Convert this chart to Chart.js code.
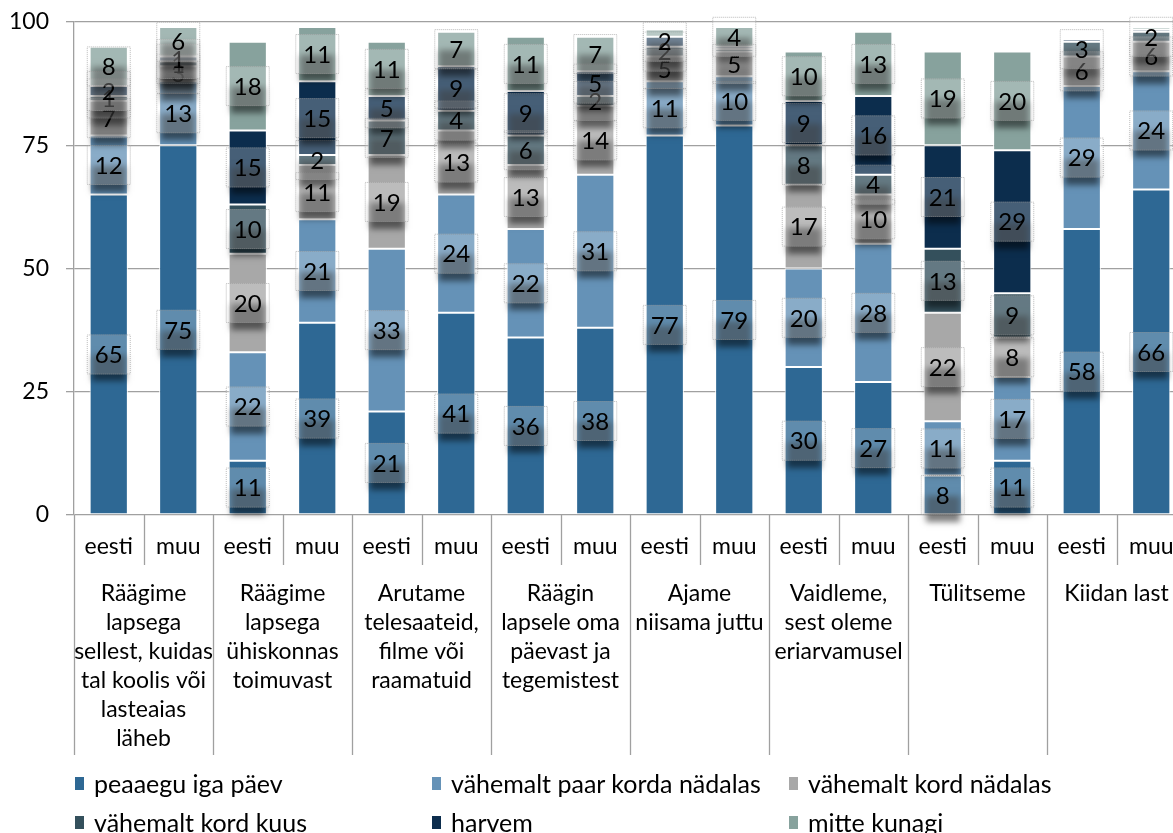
<!DOCTYPE html>
<html lang="et">
<head>
<meta charset="UTF-8">
<title>Lapse ja vanema suhtlus</title>
<script src="https://cdn.jsdelivr.net/npm/chart.js"></script>
<style>
    html, body { margin: 0; padding: 0; overflow: hidden; background: #fff; }
    #wrap { position: relative; width: 1186px; height: 833px; }
    #legend { position: absolute; left: 0; top: 0; width: 1186px; height: 833px; pointer-events: none;
              font-family: Lato, "Open Sans", sans-serif; font-size: 25px; color: #000; }
    .leg-item { position: absolute; display: flex; align-items: center; white-space: nowrap; height: 30px; }
    .leg-item i { display: inline-block; width: 9px; height: 13px; margin-right: 10px; }
</style>
</head>
<body>
<div id="wrap">
    <canvas id="chart" width="1186" height="833"></canvas>
    <div id="legend"></div>
</div>
<script>
// kategooriad: iga teema kohta kaks tulpa (eesti / muu)
const groupLines = [
    ['Räägime', 'lapsega', 'sellest, kuidas', 'tal koolis või', 'lasteaias', 'läheb'],
    ['Räägime', 'lapsega', 'ühiskonnas', 'toimuvast'],
    ['Arutame', 'telesaateid,', 'filme või', 'raamatuid'],
    ['Räägin', 'lapsele oma', 'päevast ja', 'tegemistest'],
    ['Ajame', 'niisama juttu'],
    ['Vaidleme,', 'sest oleme', 'eriarvamusel'],
    ['Tülitseme'],
    ['Kiidan last']
]
const subLabels = ['eesti', 'muu']
const categories = groupLines.flatMap(() => subLabels)

const seriesNames = [
    'peaaegu iga päev',
    'vähemalt paar korda nädalas',
    'vähemalt kord nädalas',
    'vähemalt kord kuus',
    'harvem',
    'mitte kunagi'
]
const seriesColors = ['#2e6894', '#6592b7', '#a8a8a8', '#34505c', '#0c2d4d', '#87a29d']

// protsendid, järjekord nagu categories
const peaaeguIgaPaev   = [65, 75, 11, 39, 21, 41, 36, 38, 77, 79, 30, 27,  8, 11, 58, 66]
const paarKordaNadalas = [12, 13, 22, 21, 33, 24, 22, 31, 11, 10, 20, 28, 11, 17, 29, 24]
const kordNadalas      = [ 7,  3, 20, 11, 19, 13, 13, 14,  5,  5, 17, 10, 22,  8,  6,  6]
const kordKuus         = [ 1,  1, 10,  2,  7,  4,  6,  2,  2, 0.5, 8,  4, 13,  9,  3,  2]
const harvem           = [ 2,  1, 15, 15,  5,  9,  9,  5,  2, 0.5, 9, 16, 21, 29, 0.5, 0.5]
const mitteKunagi      = [ 8,  6, 18, 11, 11,  7, 11,  7, 1.5, 4, 10, 13, 19, 20,  0, 0.5]
const seriesValues = [peaaeguIgaPaev, paarKordaNadalas, kordNadalas, kordKuus, harvem, mitteKunagi]

const yTicks = [0, 25, 50, 75, 100]

const FONT = 'Lato, "Open Sans", sans-serif'
const LINE = '#a0a0a0'

// väärtuste sildid poolläbipaistvas kastis, vari all
const valueLabels = {
    id: 'valueLabels',
    afterDatasetsDraw(chart) {
        const ctx = chart.ctx
        ctx.save()
        ctx.font = '24px ' + FONT
        ctx.textAlign = 'center'
        ctx.textBaseline = 'middle'
        chart.data.datasets.forEach((ds, d) => {
            const meta = chart.getDatasetMeta(d)
            meta.data.forEach((bar, i) => {
                const v = ds.data[i]
                // kitsad ribad jäävad sildita
                if (!Number.isInteger(v) || v < 1) return
                const cx = bar.x, cy = (bar.y + bar.base) / 2
                const w = 44, h = 40
                const x0 = cx - w / 2, y0 = cy - h / 2
                // ainult vari, kasti alla
                ctx.save()
                ctx.shadowColor = 'rgba(0,0,0,0.5)'
                ctx.shadowBlur = 6
                ctx.shadowOffsetX = 10000
                ctx.shadowOffsetY = 7
                ctx.fillStyle = '#000'
                ctx.fillRect(x0 - 10000 + 5, y0 + 14, w - 10, h - 14)
                ctx.restore()
                ctx.fillStyle = 'rgba(255,255,255,0.24)'
                ctx.fillRect(x0, y0, w, h)
                ctx.setLineDash([1, 1])
                ctx.strokeStyle = 'rgba(140,140,140,0.6)'
                ctx.lineWidth = 1
                ctx.strokeRect(x0 + 0.5, y0 + 0.5, w - 1, h - 1)
                ctx.setLineDash([])
                ctx.fillStyle = '#000'
                ctx.fillText(String(v), cx, cy + 1)
            })
        })
        ctx.restore()
    }
}

// kahetasemeline x-telg: eesti/muu ja teema nimi
const groupAxis = {
    id: 'groupAxis',
    afterDraw(chart) {
        const ctx = chart.ctx
        const xs = chart.scales.x
        const area = chart.chartArea
        const step = (area.right - area.left) / categories.length
        const base = area.bottom
        ctx.save()
        ctx.strokeStyle = LINE
        ctx.lineWidth = 1.3
        for (let k = 0; k <= categories.length; k++) {
            const x = Math.round(area.left + k * step) + 0.5
            ctx.beginPath()
            ctx.moveTo(x, base)
            ctx.lineTo(x, k % 2 === 0 ? base + 240 : base + 50)
            ctx.stroke()
        }
        ctx.fillStyle = '#000'
        ctx.font = '23px ' + FONT
        ctx.textAlign = 'center'
        ctx.textBaseline = 'middle'
        categories.forEach((c, i) => {
            ctx.fillText(c, xs.getPixelForValue(i), base + 32)
        })
        groupLines.forEach((lines, g) => {
            const cx = area.left + (2 * g + 1) * step
            lines.forEach((t, j) => {
                ctx.fillText(t, cx, base + 79 + j * 29)
            })
        })
        ctx.restore()
    }
}

const chart = new Chart(document.getElementById('chart'), {
    type: 'bar',
    data: {
        labels: categories,
        datasets: seriesNames.map((name, s) => ({
            label: name,
            data: seriesValues[s],
            backgroundColor: seriesColors[s],
            borderColor: '#ffffff',
            borderWidth: 1,
            borderSkipped: false,
            barPercentage: 0.55,
            categoryPercentage: 1
        }))
    },
    options: {
        responsive: false,
        animation: false,
        layout: { padding: { top: 22, right: 0, bottom: 0, left: 0 } },
        plugins: { legend: { display: false }, tooltip: { enabled: false } },
        scales: {
            x: {
                stacked: true,
                ticks: { display: false },
                grid: { display: false },
                border: { display: false },
                afterFit: s => { s.height = 318 }
            },
            y: {
                stacked: true,
                min: 0,
                max: 100,
                afterBuildTicks: s => { s.ticks = yTicks.map(v => ({ value: v })) },
                afterFit: s => {
                    s.width = 74
                    s.paddingTop = 0
                    s.paddingBottom = 0
                },
                ticks: { font: { family: FONT, size: 23 }, color: '#000', padding: 17 },
                grid: { color: LINE, lineWidth: 1.3, tickLength: 8 },
                border: { color: LINE, width: 1.3 }
            }
        }
    },
    plugins: [valueLabels, groupAxis]
})

// legend kahes reas, kolm võrdse laiusega veergu
const legendCols = [75, 432, 789]
const legendRows = [783, 822]
const legendBox = document.getElementById('legend')
seriesNames.forEach((name, s) => {
    const item = document.createElement('div')
    item.className = 'leg-item'
    item.style.left = legendCols[s % 3] + 'px'
    item.style.top = (legendRows[Math.floor(s / 3)] - 15) + 'px'
    item.innerHTML = `<i style="background:${seriesColors[s]}"></i><span>${name}</span>`
    legendBox.appendChild(item)
})
</script>
</body>
</html>
